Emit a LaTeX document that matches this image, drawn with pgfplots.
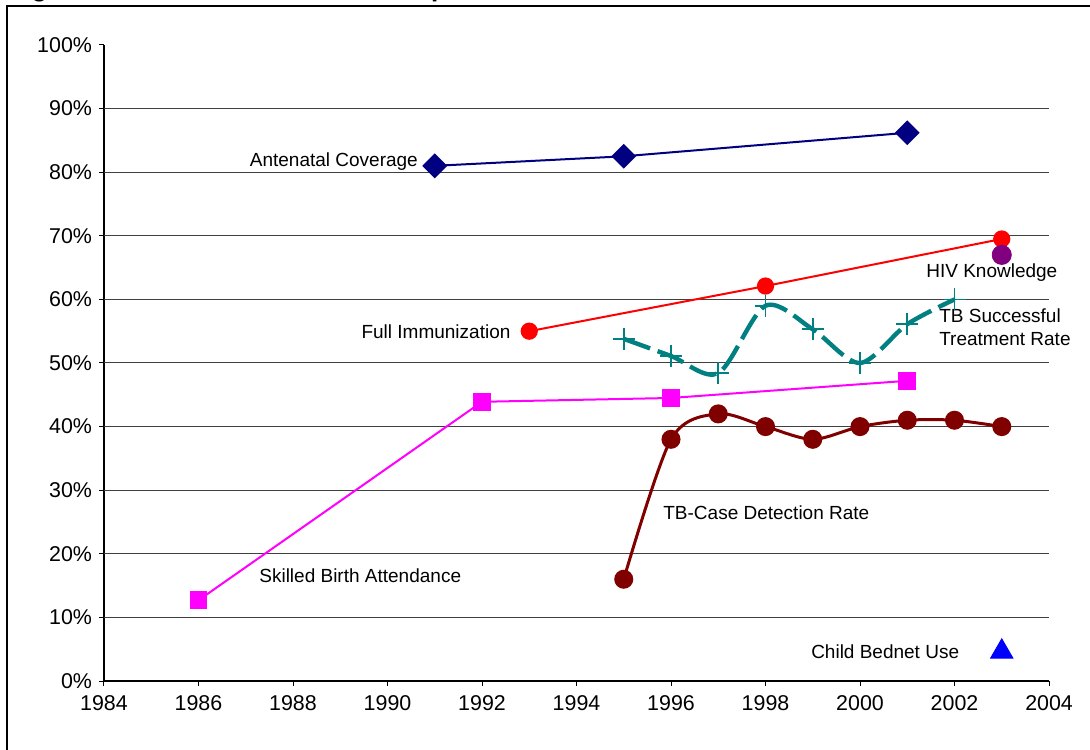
\documentclass[border=0pt]{standalone}
\usepackage{pgfplots}
\pgfplotsset{compat=1.18}
\usepackage{fontspec}
\setmainfont{Liberation Sans}
\definecolor{cnavy}{HTML}{000080}
\definecolor{cred}{HTML}{FF0000}
\definecolor{cpurple}{HTML}{800080}
\definecolor{cteal}{HTML}{008080}
\definecolor{cmag}{HTML}{FF00FF}
\definecolor{cdred}{HTML}{800000}
\definecolor{cblue}{HTML}{0000FF}
\begin{document}
\begin{tikzpicture}
\useasboundingbox (-52pt,-34pt) rectangle (493pt,340.5pt);
\draw[line width=1.1pt] (-48.5pt,-40pt) -- (-48.5pt,337.5pt) -- (500pt,337.5pt);
\node[anchor=base west, inner sep=0pt, font=\bfseries\fontsize{13}{15}\selectfont] at (-48pt,342pt) {Figure 3: Child Health Service Outputs};
\begin{axis}[
  at={(0,0)}, anchor=south west, scale only axis,
  width=472.5pt, height=318pt,
  xmin=1984, xmax=2004, ymin=0, ymax=100,
  xtick={1984,1986,...,2004}, ytick={0,10,...,100},
  yticklabel={\pgfmathprintnumber{\tick}\%},
  /pgf/number format/assume math mode=true,
  x tick label style={/pgf/number format/1000 sep={}, yshift=-1pt},
  axis x line*=bottom, axis y line*=left,
  extra y ticks={10,20,...,90}, extra y tick labels={},
  extra y tick style={ymajorgrids=true, major tick length=0pt},
  grid style={black!75, line width=0.5pt},
  tick align=outside, major tick length=2.5pt,
  tick style={black, line width=0.5pt},
  axis line style={black, line width=0.6pt},
  ticklabel style={font=\fontsize{10.7}{12}\selectfont},
  clip=false,
]
% Antenatal Coverage
\addplot[cnavy, line width=1pt, mark=square*, mark size=3.9pt, mark options={rotate=45, solid}]
  coordinates {(1991,81.0) (1995,82.5) (2001,86.2)};
% Full Immunization
\addplot[cred, line width=1pt, mark=*, mark size=3.8pt, mark options={solid}]
  coordinates {(1993,55.0) (1998,62.1) (2003,69.5)};
% HIV Knowledge
\addplot[only marks, mark=*, mark size=4.8pt, color=cpurple]
  coordinates {(2003,67.0)};
% TB Successful Treatment Rate
\addplot[cteal, line width=2.2pt, smooth, dash pattern=on 14pt off 4pt,
  mark=+, mark size=5.5pt, mark options={solid, line width=0.8pt}]
  coordinates {(1995,53.8) (1996,51.1) (1997,48.4) (1998,59.0) (1999,55.3) (2000,50.0) (2001,56.1) (2002,60.0)};
% Skilled Birth Attendance
\addplot[cmag, line width=1pt, mark=square*, mark size=3.9pt, mark options={solid}]
  coordinates {(1986,12.7) (1992,43.9) (1996,44.5) (2001,47.2)};
% TB-Case Detection Rate
\addplot[cdred, line width=1.5pt, smooth, mark=*, mark size=4pt, mark options={solid}]
  coordinates {(1995,16) (1996,38) (1997,42) (1998,40) (1999,38) (2000,40) (2001,41) (2002,41) (2003,40)};
% Child Bednet Use
\addplot[only marks, mark=triangle*, mark size=6.5pt, color=cblue]
  coordinates {(2003,4.6)};
\begin{scope}[every node/.style={font=\fontsize{9.5}{11.5}\selectfont, inner sep=0pt}]
\node[anchor=east] at (axis cs:1990.65,81.6) {Antenatal Coverage};
\node[anchor=east] at (axis cs:1992.61,54.9) {Full Immunization};
\node at (axis cs:2002.79,64.2) {HIV Knowledge};
\node[anchor=west, align=left] at (axis cs:2001.67,55.7) {TB Successful\\Treatment Rate};
\node[anchor=west] at (axis cs:1995.83,26.4) {TB-Case Detection Rate};
\node[anchor=west] at (axis cs:1987.28,16.5) {Skilled Birth Attendance};
\node[anchor=west] at (axis cs:1998.96,4.56) {Child Bednet Use};
\end{scope}
\end{axis}
\end{tikzpicture}
\end{document}
